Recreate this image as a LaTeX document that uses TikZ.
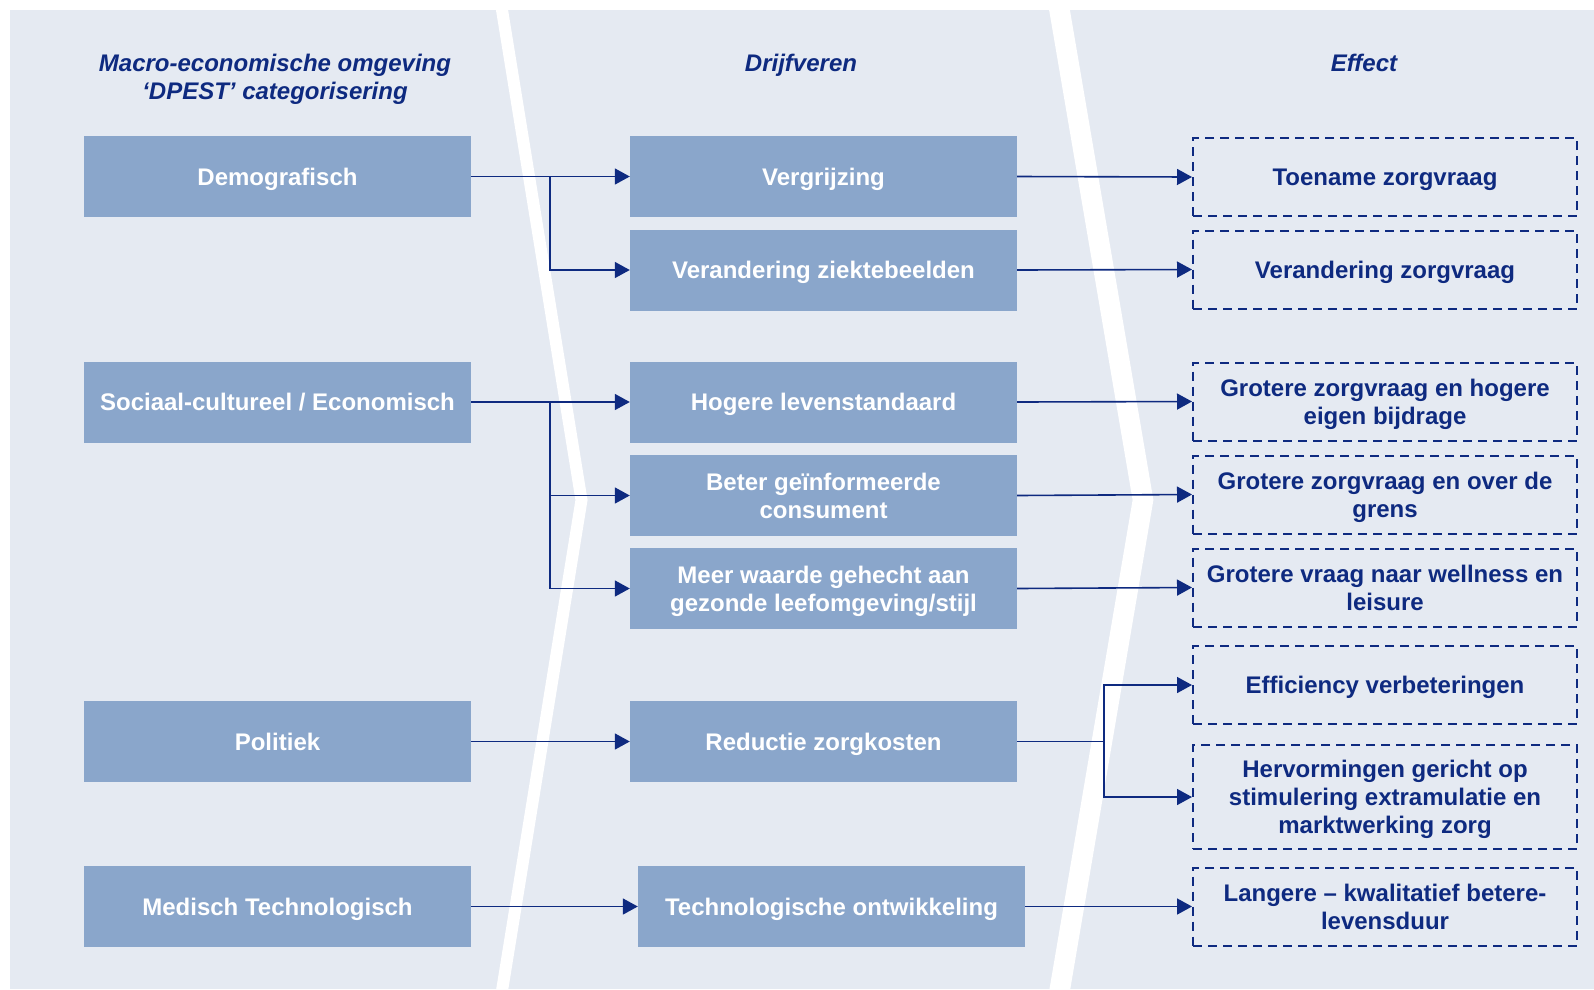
\documentclass[tikz,border=0pt]{standalone}
\usepackage{fontspec}
\setmainfont{Liberation Sans}
\usetikzlibrary{arrows.meta}
\definecolor{bg}{RGB}{229,234,242}
\definecolor{boxfill}{RGB}{138,166,203}
\definecolor{navy}{RGB}{14,42,128}
\begin{document}
\begin{tikzpicture}[x=1pt,y=-1pt,
  font=\fontsize{24}{28}\selectfont\bfseries,
  drv/.style={rectangle, fill=boxfill, text=white, minimum width=387pt, minimum height=81pt, inner sep=0pt, align=center, text depth=0pt},
  effbox/.style={rectangle, draw=navy, dash pattern=on 9pt off 6pt, line width=2pt, text=navy, minimum width=384pt, minimum height=78pt, inner sep=0pt, align=center, text depth=0pt},
  hdr/.style={text=navy, font=\fontsize{24}{28}\selectfont\bfseries\itshape, align=center, text depth=0pt},
  conn/.style={draw=navy, line width=1.6pt, -{Triangle[length=15pt,width=16pt]}},
  band/.style={draw=white, line join=miter}
]
\useasboundingbox (0,0) rectangle (1594,989);
\fill[bg] (10,10) rectangle (1594,989);
\draw[band, line width=12pt] (500.4,0) -- (581.5,500) -- (500.5,1000);
\draw[band, line width=20.5pt] (1057.8,0) -- (1143,500) -- (1058,1000);

% headers
\node[hdr] (h1) at (275,77) {Macro-economische omgeving\\‘DPEST’ categorisering};
\node[hdr] (h2) at (801,63) {Drijfveren};
\node[hdr] (h3) at (1364,63) {Effect};

% left column
\node[drv] (dem) at (277.5,176.5) {Demografisch};
\node[drv] (soc) at (277.5,402) {Sociaal-cultureel / Economisch};
\node[drv] (pol) at (277.5,741.5) {Politiek};
\node[drv] (med) at (277.5,906.5) {Medisch Technologisch};

% middle column
\node[drv] (verg) at (823.5,176.5) {Vergrijzing};
\node[drv] (ziek) at (823.5,270) {Verandering ziektebeelden};
\node[drv] (hog) at (823.5,402) {Hogere levenstandaard};
\node[drv] (bet) at (823.5,495.5) {Beter geïnformeerde\\consument};
\node[drv] (meer) at (823.5,588.5) {Meer waarde gehecht aan\\gezonde leefomgeving/stijl};
\node[drv] (red) at (823.5,741.5) {Reductie zorgkosten};
\node[drv] (tech) at (831.5,906.5) {Technologische ontwikkeling};

% right column
\node[effbox] (toe) at (1385,177) {Toename zorgvraag};
\node[effbox] (vzv) at (1385,269.5) {Verandering zorgvraag};
\node[effbox] (gro1) at (1385,401.5) {Grotere zorgvraag en hogere\\eigen bijdrage};
\node[effbox] (gro2) at (1385,494.5) {Grotere zorgvraag en over de\\grens};
\node[effbox] (well) at (1385,587.5) {Grotere vraag naar wellness en\\leisure};
\node[effbox] (eff) at (1385,685) {Efficiency verbeteringen};
\node[effbox, minimum height=104pt] (herv) at (1385,797) {Hervormingen gericht op\\stimulering extramulatie en\\marktwerking zorg};
\node[effbox] (lang) at (1385,906.5) {Langere – kwalitatief betere-\\levensduur};

% branch coordinates
\coordinate (bl) at (550,0);
\coordinate (br) at (1104,0);

% connectors left -> middle
\draw[conn] (dem.east) -- (verg.west);
\draw[conn] (dem.east) -| (bl |- ziek.west) -- (ziek.west);
\draw[conn] (soc.east) -- (hog.west);
\draw[conn] (soc.east) -| (bl |- bet.west) -- (bet.west);
\draw[conn] (soc.east) -| (bl |- meer.west) -- (meer.west);
\draw[conn] (pol.east) -- (red.west);
\draw[conn] (med.east) -- (tech.west);

% connectors middle -> right
\draw[conn] (verg.east) -- (toe.west);
\draw[conn] (ziek.east) -- (vzv.west);
\draw[conn] (hog.east) -- (gro1.west);
\draw[conn] (bet.east) -- (gro2.west);
\draw[conn] (meer.east) -- (well.west);
\draw[conn] (red.east) -| (br |- eff.west) -- (eff.west);
\draw[conn] (red.east) -| (br |- herv.west) -- (herv.west);
\draw[conn] (tech.east) -- (lang.west);
\end{tikzpicture}
\end{document}
